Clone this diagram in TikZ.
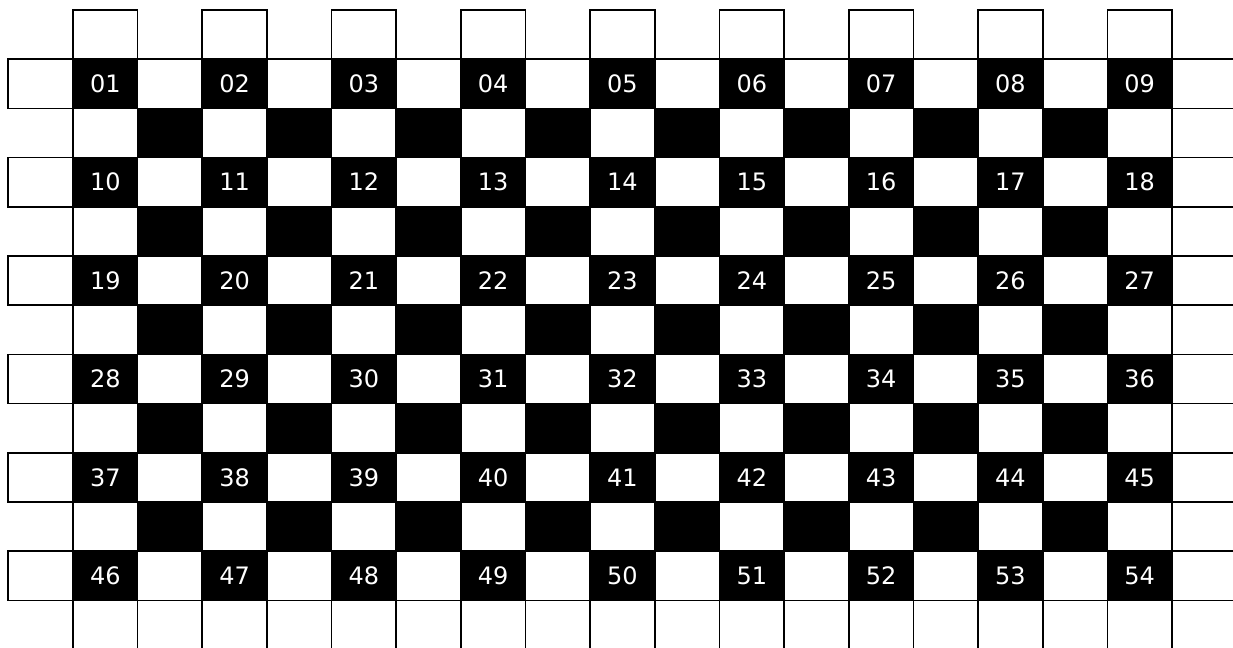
\documentclass[tikz,border=0pt]{standalone}
\usepackage{fontspec}
\setmainfont{DejaVu Sans}
\begin{document}
\begin{tikzpicture}[x=0.75pt,y=-0.75pt,
  cell/.style={rectangle,draw=black,line width=1.25pt,minimum width=48.49pt,minimum height=36.9pt,inner sep=0pt,outer sep=0pt},
  whitecell/.style={cell,fill=white},
  blackcell/.style={cell,fill=black,text=white,font=\fontsize{18}{21}\selectfont,text height=13.1pt,text depth=0pt}]
\useasboundingbox (0,0) rectangle (1233,648);
\clip (0,0) rectangle (1233,648);
\fill[white] (0,0) rectangle (1233,648);
\foreach \r in {0,...,12} {
  \foreach \c in {0,...,18} {
    \pgfmathtruncatemacro{\ro}{mod(\r,2)}
    \pgfmathtruncatemacro{\co}{mod(\c,2)}
    \pgfmathtruncatemacro{\prt}{mod(\r+\c,2)}
    \pgfmathtruncatemacro{\inner}{and(and(\r>1,\r<11),and(\c>1,\c<17))}
    \pgfmathsetmacro{\cx}{8.3+64.65*(\c+0.5)}
    \pgfmathsetmacro{\cy}{10+49.2*(\r+0.5)}
    \pgfmathtruncatemacro{\num}{((\r-1)/2)*9+(\c+1)/2}
    \ifnum\numexpr\ro+\co+\inner\relax>0
      \ifnum\prt=0
        \ifnum\ro=1
          \node[blackcell] (cell-\r-\c) at (\cx,\cy) {\ifnum\num<10 0\fi\num};
        \else
          \node[blackcell] (cell-\r-\c) at (\cx,\cy) {};
        \fi
      \else
        \node[whitecell] (cell-\r-\c) at (\cx,\cy) {};
      \fi
    \fi
  }
}
\end{tikzpicture}
\end{document}
